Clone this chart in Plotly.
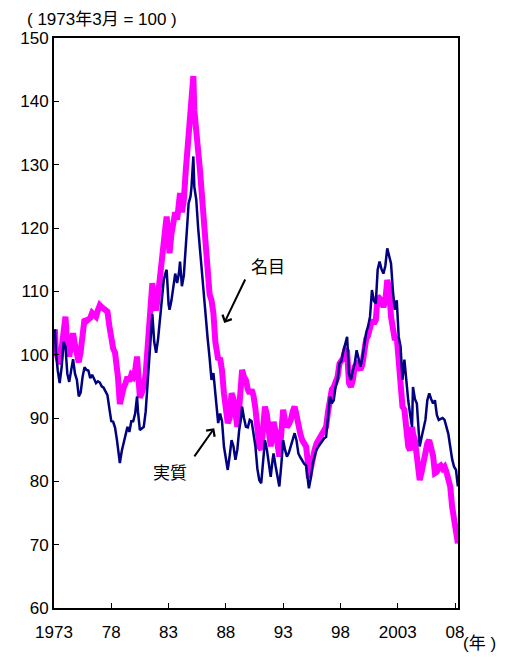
import plotly.graph_objects as go

# Dollar index, nominal and real (March 1973 = 100)
months = [
    "1973-02", "1973-03", "1973-05", "1973-07", "1973-09", "1973-11",
    "1974-01", "1974-03", "1974-05", "1974-07", "1974-09", "1974-11",
    "1975-01", "1975-03", "1975-05", "1975-07", "1975-09", "1975-11",
    "1976-01", "1976-03", "1976-05", "1976-07", "1976-09", "1976-11",
    "1977-01", "1977-03", "1977-05", "1977-07", "1977-09", "1977-11",
    "1978-01", "1978-03", "1978-05", "1978-07", "1978-08", "1978-10", "1978-12",
    "1979-02", "1979-04", "1979-06", "1979-08", "1979-10", "1979-12",
    "1980-02", "1980-04", "1980-05", "1980-07", "1980-09", "1980-11",
    "1981-01", "1981-03", "1981-05", "1981-07", "1981-08", "1981-10", "1981-12",
    "1982-02", "1982-04", "1982-06", "1982-08", "1982-10", "1982-11",
    "1983-01", "1983-02", "1983-04", "1983-06", "1983-08", "1983-10", "1983-12",
    "1984-01", "1984-03", "1984-05", "1984-07", "1984-09", "1984-10", "1984-12",
    "1985-01", "1985-02", "1985-03", "1985-04", "1985-06", "1985-08", "1985-10", "1985-12",
    "1986-02", "1986-04", "1986-06", "1986-08", "1986-10", "1986-12",
    "1987-02", "1987-03", "1987-05", "1987-07", "1987-09", "1987-11",
    "1988-01", "1988-03", "1988-05", "1988-07", "1988-09", "1988-11",
    "1989-01", "1989-03", "1989-05", "1989-06", "1989-08", "1989-10", "1989-12",
    "1990-02", "1990-04", "1990-06", "1990-08", "1990-10", "1990-12",
    "1991-02", "1991-04", "1991-06", "1991-08", "1991-10", "1991-12",
    "1992-02", "1992-03", "1992-05", "1992-07", "1992-09", "1992-11",
    "1993-01", "1993-03", "1993-05", "1993-07", "1993-09", "1993-11",
    "1994-01", "1994-03", "1994-05", "1994-07", "1994-09", "1994-11",
    "1995-01", "1995-03", "1995-04", "1995-06", "1995-08", "1995-10", "1995-12",
    "1996-02", "1996-04", "1996-06", "1996-08", "1996-10", "1996-12",
    "1997-02", "1997-04", "1997-06", "1997-08", "1997-10", "1997-12",
    "1998-02", "1998-04", "1998-06", "1998-08", "1998-10", "1998-12",
    "1999-02", "1999-04", "1999-06", "1999-08", "1999-10", "1999-12",
    "2000-02", "2000-04", "2000-06", "2000-08", "2000-10", "2000-12",
    "2001-02", "2001-04", "2001-06", "2001-08", "2001-10", "2001-12",
    "2002-02", "2002-04", "2002-06", "2002-08", "2002-10", "2002-12",
    "2003-02", "2003-04", "2003-06", "2003-08", "2003-10", "2003-12",
    "2004-02", "2004-04", "2004-05", "2004-07", "2004-09", "2004-12",
    "2005-02", "2005-04", "2005-06", "2005-08", "2005-10", "2005-12",
    "2006-02", "2006-04", "2006-06", "2006-08", "2006-10", "2006-12",
    "2007-02", "2007-04", "2007-06", "2007-08", "2007-10", "2007-12",
    "2008-02", "2008-03", "2008-04",
]

nominal = [
    104.0, 100.5, 99.5, 98.5, 101.0, 104.5,
    106.0, 101.5, 99.7, 101.5, 103.4, 101.5,
    100.0, 98.8, 100.5, 103.5, 105.6, 105.3,
    105.5, 105.8, 106.6, 106.4, 106.0, 107.0,
    107.8, 107.5, 107.3, 107.0, 106.8, 104.5,
    102.0, 101.0, 100.3, 98.0, 96.5, 92.2, 93.8,
    94.8, 95.5, 96.5, 95.8, 96.8, 96.5,
    97.5, 99.7, 97.0, 93.2, 94.0, 95.0,
    97.0, 101.0, 104.4, 108.5, 111.3, 108.0, 107.0,
    109.5, 112.8, 116.0, 118.1, 120.5, 121.8,
    117.0, 116.0, 119.0, 121.8, 122.5, 121.3, 123.5,
    125.5, 122.5, 124.4, 129.0, 132.5, 135.0, 137.5,
    140.2, 143.0, 144.0, 138.6, 136.0, 133.0, 129.0, 125.0,
    121.3, 116.0, 112.8, 109.5, 108.6, 106.5,
    102.0, 100.2, 99.2, 99.5, 97.5, 93.9,
    90.5, 89.2, 90.0, 93.9, 93.0, 90.0,
    88.6, 91.5, 95.0, 97.6, 96.5, 96.0, 94.5,
    93.9, 94.5, 93.5, 91.5, 88.0, 85.5,
    85.0, 88.5, 91.8, 90.5, 88.0, 85.5,
    88.0, 89.4, 88.0, 86.0, 83.9, 87.5,
    91.3, 89.5, 88.6, 89.0, 89.7, 91.0,
    91.8, 90.5, 88.6, 87.5, 86.5, 86.0,
    85.5, 83.0, 80.5, 82.0, 83.9, 85.0, 86.0,
    86.5, 87.2, 87.8, 88.0, 88.6, 91.0,
    93.9, 94.5, 94.9, 95.5, 96.5, 98.6,
    99.0, 99.5, 100.7, 100.5, 95.5, 94.9,
    96.0, 98.1, 98.5, 98.0, 97.6, 98.5,
    101.3, 102.5, 103.0, 104.4, 105.5, 104.9,
    105.5, 109.2, 108.8, 108.6, 107.5, 108.5,
    111.8, 110.5, 106.0, 103.5, 102.3, 102.8,
    99.7, 96.0, 91.8, 91.3, 88.5, 85.5,
    84.9, 88.6, 87.5, 86.5, 84.0, 80.2,
    81.5, 83.0, 84.9, 86.0, 86.5, 85.5,
    84.0, 81.3, 81.5, 82.3, 82.5, 82.0,
    82.3, 81.5, 80.5, 79.2, 76.0, 73.9,
    72.3, 71.5, 70.2,
]

real = [
    104.0, 100.5, 97.5, 95.5, 98.0, 102.0,
    101.3, 97.0, 95.7, 97.5, 99.3, 97.0,
    96.0, 93.4, 94.0, 96.5, 98.0, 97.6,
    97.5, 96.3, 96.8, 96.2, 95.5, 95.8,
    95.6, 95.0, 94.8, 94.2, 93.6, 91.5,
    89.5, 89.4, 88.5, 86.5, 85.0, 82.9, 84.8,
    86.0, 87.0, 88.6, 87.8, 89.5, 89.5,
    90.7, 93.4, 91.0, 88.1, 88.4, 88.6,
    91.0, 95.0, 99.0, 103.0, 106.4, 102.0, 100.3,
    102.5, 105.5, 109.0, 111.8, 113.0, 113.4,
    108.0, 107.1, 108.5, 110.5, 112.8, 111.3, 113.0,
    114.7, 110.8, 112.5, 118.0, 121.5, 123.9, 125.0,
    126.5, 129.5, 131.3, 126.5, 124.5, 120.0, 116.5, 112.3,
    108.5, 104.9, 102.5, 99.5, 96.0, 97.1,
    93.5, 92.3, 89.2, 90.7, 89.5, 85.5,
    83.4, 81.8, 84.0, 86.5, 85.5, 83.4,
    85.0, 88.1, 90.0, 91.8, 90.0, 88.6, 88.5,
    89.7, 89.5, 87.6, 85.5, 82.0, 80.2,
    79.7, 83.0, 86.5, 85.0, 82.5, 80.7,
    83.5, 84.4, 82.5, 80.5, 79.2, 82.5,
    86.5, 85.0, 83.9, 84.5, 85.5, 86.5,
    87.6, 86.5, 84.4, 83.8, 83.2, 82.8,
    82.5, 80.5, 78.9, 80.5, 82.8, 84.0, 85.0,
    85.5, 86.0, 86.5, 86.8, 87.0, 90.0,
    93.4, 92.3, 92.8, 95.0, 96.0, 98.6,
    99.0, 100.5, 101.5, 102.8, 97.0, 96.0,
    97.5, 98.6, 100.7, 99.5, 98.1, 99.5,
    101.8, 103.5, 104.5, 106.0, 110.2, 108.5,
    108.1, 113.4, 114.7, 113.5, 112.8, 114.0,
    116.8, 115.5, 114.4, 110.0, 107.1, 108.6,
    102.8, 101.3, 96.0, 99.2, 95.5, 92.8,
    90.5, 88.6, 94.9, 93.0, 92.3, 85.5,
    87.0, 88.5, 89.7, 92.8, 93.9, 93.0,
    92.3, 92.8, 90.5, 89.7, 89.9, 90.0,
    89.7, 88.4, 87.5, 85.5, 83.5, 82.3,
    81.8, 80.5, 79.2,
]

tick_years = ["1973-01-01", "1978-01-01", "1983-01-01", "1988-01-01",
              "1993-01-01", "1998-01-01", "2003-01-01", "2008-01-01"]
tick_labels = ["1973", "78", "83", "88", "93", "98", "2003", "08"]
y_ticks = [60, 70, 80, 90, 100, 110, 120, 130, 140, 150]

num_font = "Liberation Sans, Arial, sans-serif"
jp_font = "Liberation Sans, Noto Sans CJK JP, sans-serif"

fig = go.Figure()
fig.add_trace(go.Scatter(
    x=months, y=nominal, mode="lines", name="名目",
    line=dict(color="#FF00FF", width=6),
))
fig.add_trace(go.Scatter(
    x=months, y=real, mode="lines", name="実質",
    line=dict(color="#000080", width=2.5),
))

fig.update_layout(
    width=505, height=657,
    margin=dict(l=54, r=47, t=38, b=49),
    paper_bgcolor="white", plot_bgcolor="white",
    showlegend=False,
    font=dict(family=num_font, size=17, color="black"),
)
fig.update_xaxes(
    type="date", range=["1973-01-01", "2008-04-05"],
    tickvals=tick_years, ticktext=tick_labels,
    ticks="inside", ticklen=5, tickwidth=1, tickcolor="black",
    showline=True, linecolor="black", linewidth=2, mirror=True,
    showgrid=False, zeroline=False,
    tickfont=dict(size=17), ticklabelstandoff=8,
)
fig.update_yaxes(
    range=[60, 150], tickvals=y_ticks,
    ticks="inside", ticklen=5, tickwidth=1, tickcolor="black",
    showline=True, linecolor="black", linewidth=2, mirror=True,
    showgrid=False, zeroline=False,
    tickfont=dict(size=17),
)

# unit labels
fig.add_annotation(
    text="( 1973年3月 = 100 )", xref="paper", yref="paper",
    x=-0.089, y=1.0, xanchor="left", yanchor="bottom", xshift=7, yshift=7,
    showarrow=False, font=dict(family=jp_font, size=17),
)
fig.add_annotation(
    text="(年 )", xref="paper", yref="paper",
    x=1.0, y=0.0, xanchor="left", yanchor="top", xshift=3, yshift=-24,
    showarrow=False, font=dict(family=jp_font, size=17),
)

# series labels with pointer arrows
fig.add_annotation(
    x="1987-11-10", y=105.0, ax="1989-10-01", ay=112.1,
    xref="x", yref="y", axref="x", ayref="y", text="",
    showarrow=True, arrowhead=4, arrowsize=1, arrowwidth=2, arrowcolor="black",
)
fig.add_annotation(
    x="1991-09-05", y=113.8, text="名目", showarrow=False,
    font=dict(family=jp_font, size=17),
)
fig.add_annotation(
    x="1986-12-28", y=88.4, ax="1985-03-01", ay=83.7,
    xref="x", yref="y", axref="x", ayref="y", text="",
    showarrow=True, arrowhead=4, arrowsize=1, arrowwidth=2, arrowcolor="black",
)
fig.add_annotation(
    x="1983-02-15", y=81.3, text="実質", showarrow=False,
    font=dict(family=jp_font, size=17),
)

fig.write_html("out.html")
